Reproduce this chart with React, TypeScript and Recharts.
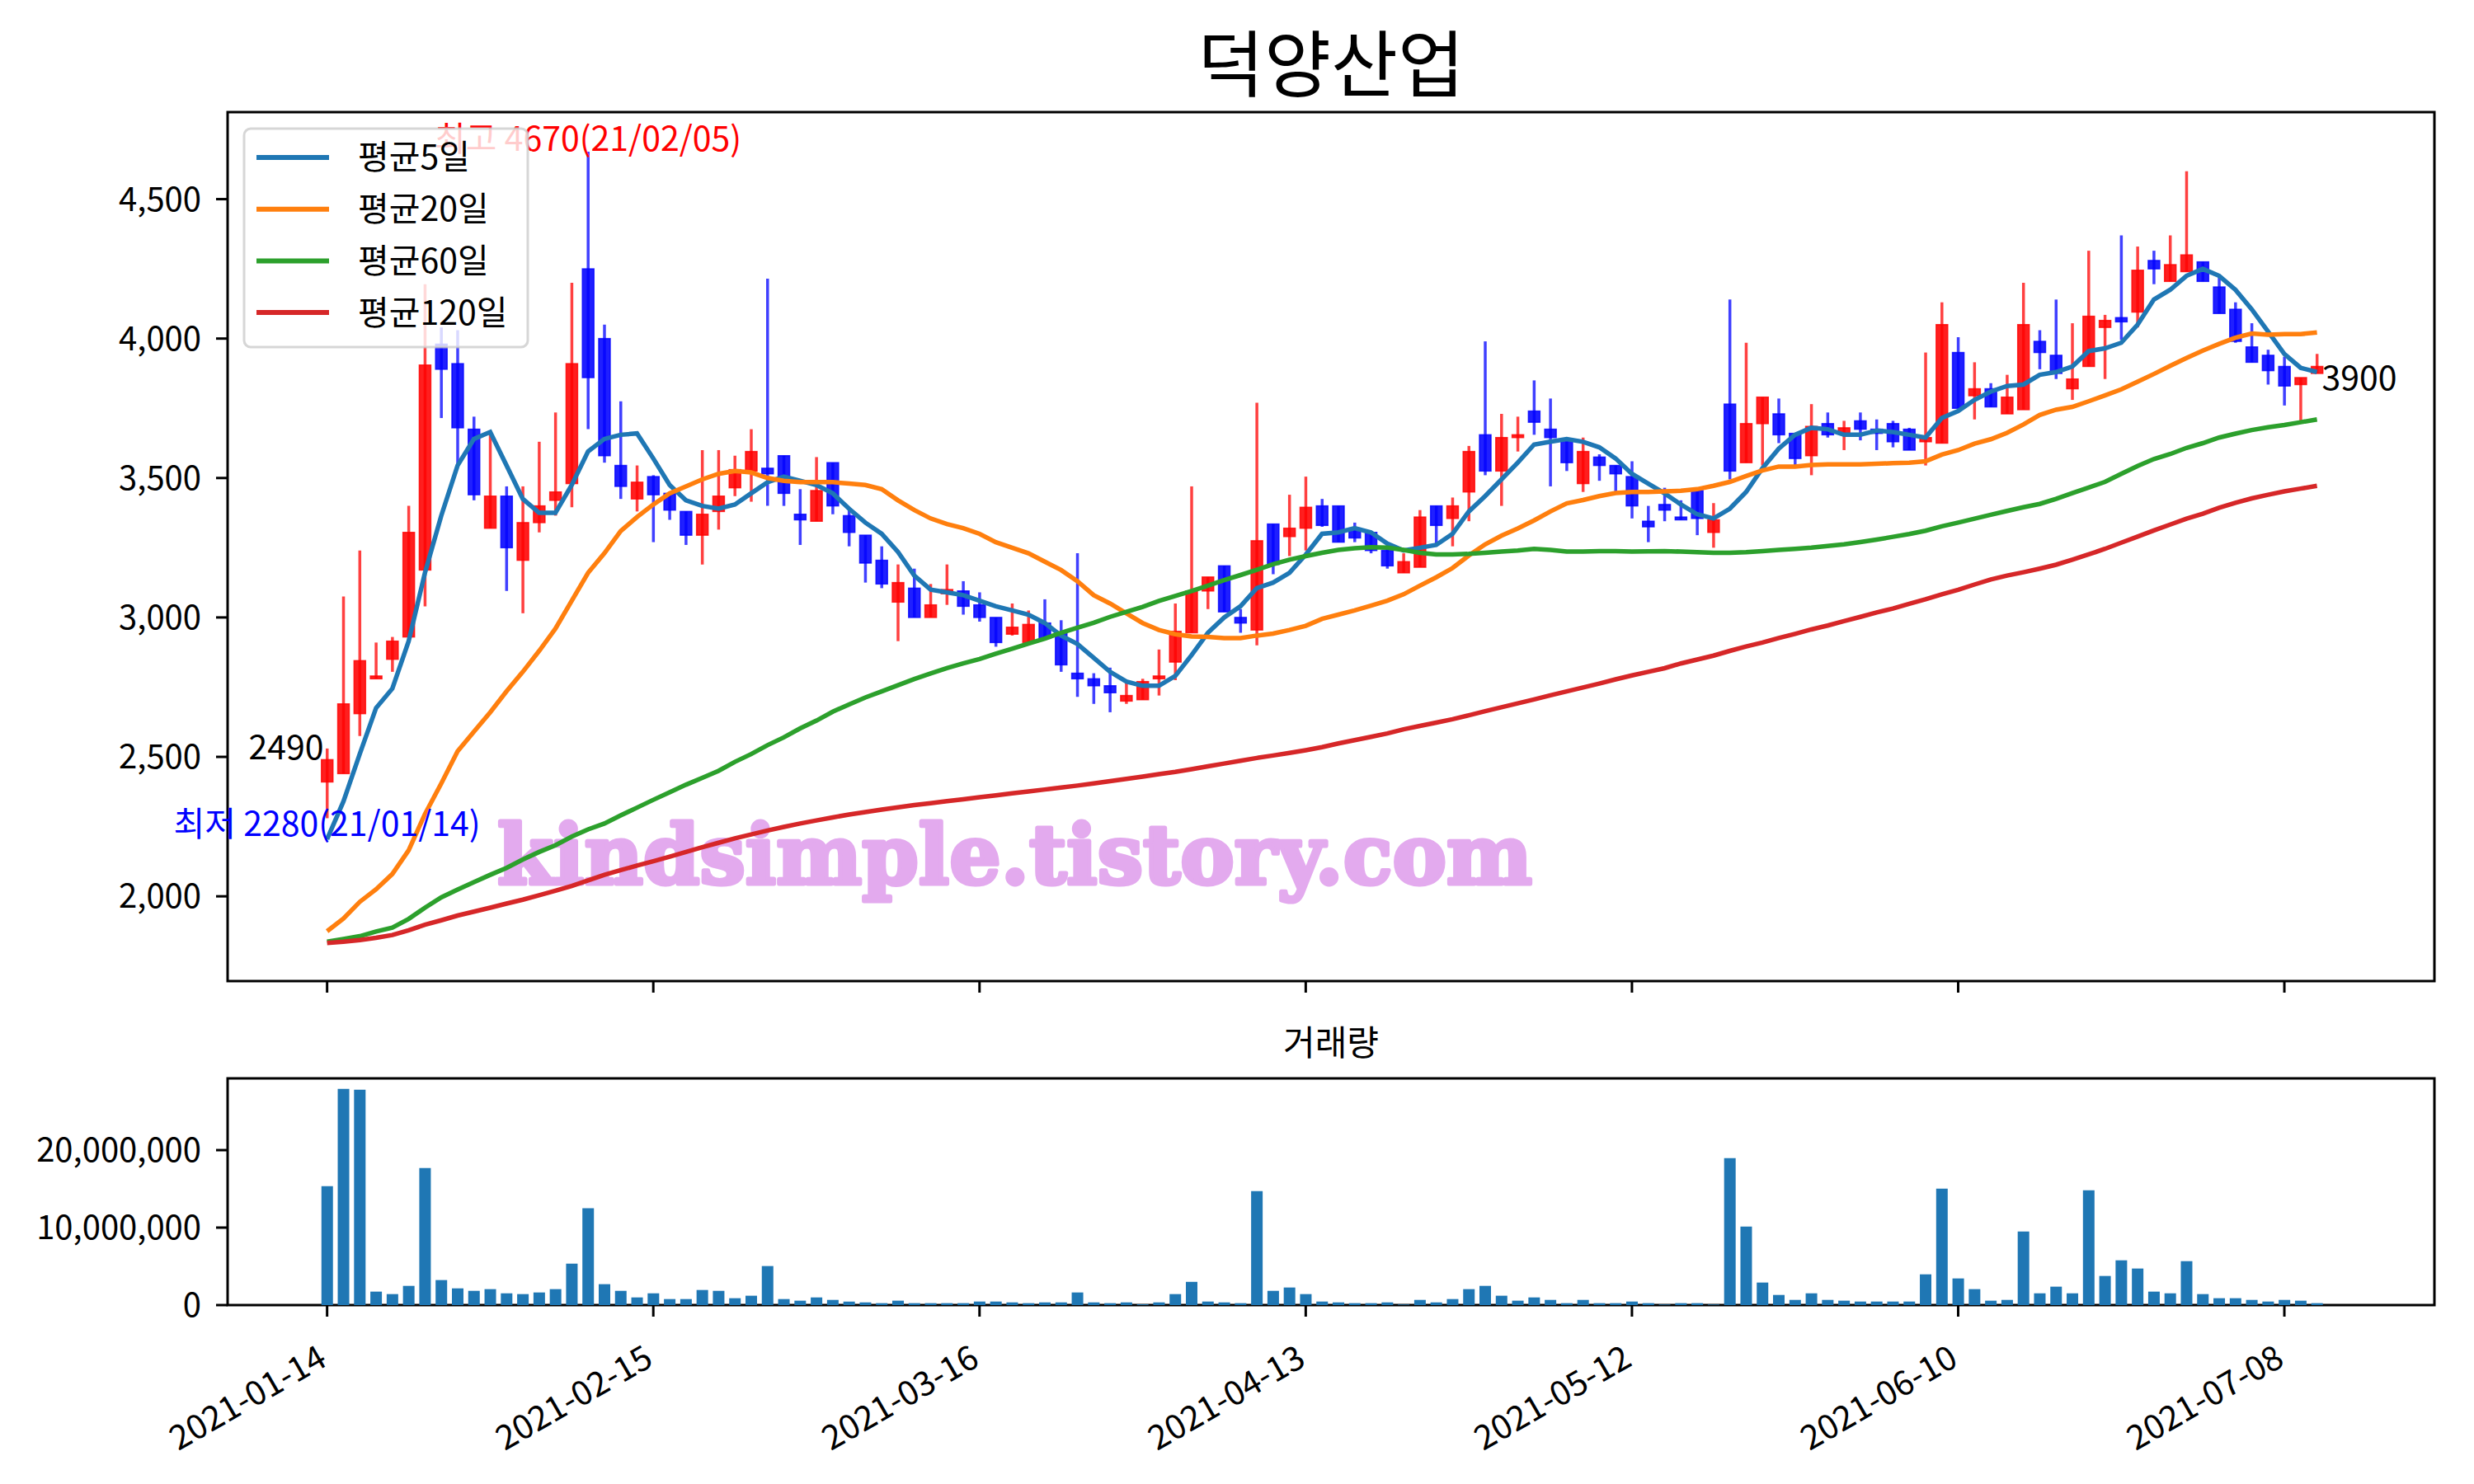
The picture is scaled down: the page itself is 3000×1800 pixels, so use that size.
import React from "react";
import { ComposedChart, Bar, Line, XAxis, YAxis, ReferenceArea, ReferenceDot } from "recharts";

const FONT = "'Noto Sans CJK KR', 'Noto Sans', sans-serif";

// x tick positions (trading-day index) and their labels
const tickIdx = [0, 20, 40, 60, 80, 100, 120];
const tickLabels = ["2021-01-14", "2021-02-15", "2021-03-16", "2021-04-13", "2021-05-12", "2021-06-10", "2021-07-08"];
const priceTicks = [2000, 2500, 3000, 3500, 4000, 4500];
const volumeTicks = [0, 10000000, 20000000];

const openPrices = [
  2410, 2440, 2655, 2780, 2850, 2930, 3170, 3980, 3910, 3675,
  3320, 3435, 3205, 3340, 3420, 3480, 4250, 4000, 3545, 3425,
  3505, 3445, 3380, 3295, 3380, 3465, 3525, 3535, 3580, 3370,
  3345, 3555, 3365, 3295, 3205, 3055, 3105, 3000, 3085, 3095,
  3045, 3000, 2940, 2910, 2980, 2945, 2800, 2780, 2755, 2700,
  2705, 2780, 2840, 2945, 3095, 3185, 3000, 2955, 3335, 3290,
  3320, 3400, 3400, 3320, 3305, 3240, 3160, 3180, 3400, 3355,
  3450, 3655, 3525, 3645, 3740, 3675, 3640, 3480, 3575, 3545,
  3505, 3345, 3405, 3360, 3455, 3305, 3765, 3555, 3695, 3730,
  3660, 3580, 3695, 3660, 3705, 3675, 3695, 3675, 3630, 3625,
  3950, 3795, 3820, 3730, 3745, 3990, 3940, 3820, 3900, 4040,
  4075, 4095, 4280, 4205, 4240, 4275, 4185, 4105, 3970, 3940,
  3900, 3835, 3875,
];
const highPrices = [
  2530, 3075, 3240, 2910, 2930, 3400, 4195, 4040, 4030, 3720,
  3670, 3470, 3470, 3630, 3735, 4200, 4670, 4050, 3775, 3545,
  3510, 3450, 3380, 3600, 3600, 3580, 3675, 4215, 3580, 3460,
  3575, 3555, 3395, 3295, 3255, 3190, 3175, 3120, 3190, 3130,
  3090, 3000, 3050, 3025, 3065, 2990, 3230, 2800, 2820, 2775,
  2780, 2885, 3050, 3470, 3145, 3185, 3030, 3770, 3335, 3440,
  3505, 3425, 3400, 3340, 3305, 3260, 3230, 3385, 3400, 3430,
  3615, 3990, 3730, 3720, 3850, 3785, 3640, 3645, 3585, 3545,
  3560, 3400, 3465, 3420, 3455, 3410, 4140, 3985, 3790, 3785,
  3660, 3765, 3735, 3705, 3735, 3710, 3705, 3680, 3950, 4130,
  4005, 3915, 3840, 3870, 4200, 4030, 4140, 4055, 4315, 4085,
  4370, 4330, 4315, 4370, 4600, 4275, 4220, 4130, 4055, 3960,
  3935, 3860, 3945,
];
const lowPrices = [
  2280, 2440, 2575, 2780, 2805, 2930, 3040, 3715, 3545, 3420,
  3320, 3095, 3015, 3305, 3365, 3395, 3675, 3555, 3425, 3380,
  3270, 3350, 3260, 3190, 3315, 3435, 3415, 3400, 3400, 3260,
  3345, 3370, 3255, 3125, 3105, 2915, 3000, 3000, 3045, 3010,
  2985, 2895, 2935, 2910, 2925, 2805, 2715, 2690, 2660, 2690,
  2705, 2720, 2775, 2945, 3030, 3020, 2945, 2900, 3155, 3220,
  3240, 3325, 3270, 3270, 3230, 3175, 3160, 3180, 3260, 3255,
  3345, 3510, 3400, 3595, 3655, 3470, 3525, 3450, 3490, 3450,
  3355, 3270, 3345, 3350, 3295, 3250, 3495, 3555, 3545, 3625,
  3545, 3510, 3645, 3600, 3635, 3600, 3610, 3600, 3545, 3625,
  3750, 3710, 3755, 3730, 3745, 3890, 3855, 3780, 3900, 3855,
  3995, 4040, 4195, 4205, 4240, 4205, 4090, 3985, 3915, 3835,
  3760, 3705, 3875,
];
const closePrices = [
  2490, 2690, 2845, 2790, 2915, 3305, 3905, 3890, 3680, 3440,
  3435, 3250, 3340, 3400, 3450, 3910, 3860, 3580, 3470, 3485,
  3440, 3385, 3295, 3370, 3435, 3530, 3595, 3515, 3445, 3350,
  3455, 3400, 3305, 3195, 3120, 3125, 3000, 3045, 3100, 3040,
  3000, 2910, 2965, 2975, 2925, 2830, 2780, 2755, 2730, 2720,
  2770, 2790, 2950, 3095, 3145, 3020, 2980, 3275, 3190, 3320,
  3395, 3330, 3270, 3285, 3240, 3185, 3200, 3360, 3330, 3400,
  3595, 3525, 3645, 3655, 3700, 3645, 3555, 3595, 3545, 3515,
  3400, 3325, 3385, 3350, 3355, 3350, 3525, 3695, 3790, 3655,
  3570, 3685, 3655, 3680, 3675, 3660, 3630, 3600, 3645, 4050,
  3750, 3820, 3755, 3790, 4050, 3950, 3875, 3855, 4080, 4065,
  4060, 4245, 4250, 4265, 4300, 4205, 4090, 3990, 3915, 3885,
  3830, 3860, 3900,
];
const volumes = [
  15350000, 27900000, 27800000, 1740000, 1420000, 2480000, 17700000, 3230000, 2160000, 1840000,
  2060000, 1520000, 1420000, 1630000, 2060000, 5350000, 12500000, 2700000, 1840000, 990000,
  1520000, 780000, 780000, 1950000, 1840000, 890000, 1210000, 5040000, 780000, 570000,
  990000, 670000, 460000, 350000, 250000, 570000, 250000, 250000, 250000, 250000,
  460000, 460000, 350000, 250000, 350000, 350000, 1630000, 350000, 250000, 350000,
  100000, 350000, 1420000, 3000000, 460000, 350000, 250000, 14700000, 1840000, 2270000,
  1420000, 460000, 350000, 250000, 250000, 350000, 70000, 670000, 350000, 780000,
  2060000, 2480000, 1210000, 570000, 990000, 670000, 250000, 670000, 250000, 250000,
  460000, 250000, 70000, 250000, 250000, 70000, 18970000, 10140000, 2910000, 1310000,
  670000, 1520000, 670000, 570000, 460000, 460000, 460000, 460000, 3970000, 15040000,
  3440000, 2060000, 570000, 670000, 9500000, 1520000, 2380000, 1520000, 14820000, 3760000,
  5780000, 4720000, 1740000, 1520000, 5670000, 1420000, 890000, 890000, 670000, 460000,
  670000, 570000, 250000,
];
const ma5 = [
  2205, 2340, 2510, 2675, 2745, 2915, 3160, 3365, 3545, 3640,
  3665, 3545, 3425, 3375, 3375, 3475, 3595, 3640, 3655, 3660,
  3570, 3475, 3420, 3400, 3390, 3405, 3445, 3485, 3505, 3490,
  3475, 3445, 3390, 3340, 3300, 3235, 3150, 3100, 3090, 3080,
  3060, 3040, 3025, 3010, 2980, 2935, 2905, 2855, 2805, 2770,
  2755, 2755, 2790, 2865, 2945, 3000, 3040, 3105, 3125, 3160,
  3225, 3300, 3305, 3320, 3305, 3265, 3240, 3250, 3260, 3300,
  3380, 3435, 3495, 3555, 3620, 3630, 3640, 3630, 3610, 3570,
  3515, 3480, 3445, 3405, 3370, 3355, 3390, 3450, 3535, 3605,
  3655, 3680, 3675, 3655, 3655, 3670, 3665, 3655, 3645, 3715,
  3740, 3780, 3810, 3830, 3835, 3870, 3880, 3900, 3955, 3965,
  3985, 4050, 4140, 4175, 4225, 4250, 4225, 4175, 4105, 4025,
  3945, 3895, 3880,
];
const ma20 = [
  1875, 1920, 1980, 2025, 2080, 2165, 2295, 2405, 2520, 2590,
  2660, 2735, 2805, 2880, 2960, 3060, 3160, 3230, 3310, 3360,
  3405, 3445, 3470, 3495, 3515, 3525, 3520, 3500, 3490, 3485,
  3485, 3485, 3480, 3475, 3460, 3420, 3385, 3355, 3335, 3320,
  3300, 3270, 3250, 3230, 3200, 3170, 3130, 3080, 3050, 3015,
  2980, 2955, 2940, 2932, 2930, 2926, 2926, 2935, 2942, 2955,
  2970, 2995, 3010, 3025, 3042, 3060, 3083, 3114, 3144, 3177,
  3222, 3262, 3293, 3319, 3348, 3380, 3409, 3421, 3435, 3446,
  3450, 3450, 3452, 3454, 3460, 3472, 3486, 3507, 3527, 3541,
  3541, 3547, 3549, 3549, 3549, 3551, 3553, 3555, 3560, 3584,
  3600, 3623, 3639, 3662, 3692, 3726, 3745, 3755, 3775, 3796,
  3818, 3845, 3873, 3902, 3930, 3957, 3981, 4003, 4018, 4014,
  4016, 4016, 4022,
];
const ma60 = [
  1837, 1847, 1857, 1874, 1888, 1919, 1959, 1996, 2024, 2051,
  2077, 2102, 2132, 2159, 2183, 2214, 2240, 2261, 2290, 2318,
  2346, 2373, 2400, 2425, 2450, 2482, 2510, 2542, 2570, 2602,
  2630, 2662, 2688, 2713, 2735, 2757, 2779, 2799, 2818, 2835,
  2851, 2870, 2888, 2906, 2924, 2945, 2963, 2981, 3002, 3020,
  3038, 3059, 3077, 3095, 3114, 3134, 3152, 3171, 3191, 3207,
  3220, 3232, 3242, 3248, 3252, 3250, 3242, 3232, 3226, 3226,
  3228, 3232, 3236, 3240, 3246, 3242, 3236, 3236, 3238, 3238,
  3236, 3237, 3238, 3236, 3234, 3232, 3232, 3234, 3238, 3242,
  3246, 3250, 3256, 3262, 3270, 3279, 3289, 3299, 3311, 3327,
  3340, 3354, 3368, 3382, 3395, 3407, 3425, 3446, 3466, 3486,
  3515, 3543, 3568, 3586, 3608, 3625, 3645, 3659, 3672, 3682,
  3690, 3700, 3710,
];
const ma120 = [
  1833, 1837, 1843, 1851, 1861, 1878, 1898, 1914, 1931, 1945,
  1959, 1974, 1988, 2004, 2020, 2037, 2057, 2077, 2094, 2110,
  2126, 2142, 2159, 2176, 2192, 2208, 2222, 2236, 2249, 2261,
  2272, 2283, 2293, 2302, 2311, 2319, 2327, 2334, 2341, 2348,
  2355, 2362, 2369, 2376, 2383, 2390, 2397, 2405, 2413, 2421,
  2429, 2438, 2446, 2456, 2466, 2476, 2486, 2496, 2505, 2514,
  2524, 2535, 2548, 2560, 2572, 2584, 2599, 2611, 2623, 2635,
  2649, 2664, 2678, 2692, 2706, 2721, 2735, 2749, 2763, 2778,
  2792, 2805, 2818, 2835, 2849, 2863, 2880, 2896, 2910, 2926,
  2941, 2957, 2971, 2987, 3002, 3018, 3032, 3049, 3065, 3083,
  3099, 3118, 3136, 3150, 3162, 3175, 3189, 3207, 3226, 3246,
  3268, 3290, 3312, 3333, 3354, 3372, 3393, 3411, 3427, 3440,
  3452, 3462, 3472,
];

const highDate = "21/02/05";
const lowDate = "21/01/14";

const rows = closePrices.map((c, i) => ({
  i,
  open: openPrices[i],
  high: highPrices[i],
  low: lowPrices[i],
  close: c,
  range: [lowPrices[i], highPrices[i]],
  volume: volumes[i],
  ma5: ma5[i],
  ma20: ma20[i],
  ma60: ma60[i],
  ma120: ma120[i],
}));

const maxHigh = Math.max(...highPrices);
const maxIdx = highPrices.indexOf(maxHigh);
const minLow = Math.min(...lowPrices);
const minIdx = lowPrices.indexOf(minLow);
const lastIdx = closePrices.length - 1;

const X_DOMAIN: [number, number] = [-6.1, 129.2];
const PRICE_DOMAIN: [number, number] = [1696, 4812];
const VOL_DOMAIN: [number, number] = [0, 29260000];

const fmt = (v: number) => v.toLocaleString("en-US");

function Candle(props: any) {
  const { x, y, width, height } = props;
  const d = props.payload ?? props;
  if (d == null || d.high == null) return null;
  const top = Math.min(y, y + height);
  const h = Math.abs(height);
  const span = d.high - d.low || 1;
  const py = (v: number) => top + ((d.high - v) / span) * h;
  const up = d.close >= d.open;
  const color = up ? "#ff0000" : "#0000ff";
  const cx = x + width / 2;
  const bTop = py(Math.max(d.open, d.close));
  const bBot = py(Math.min(d.open, d.close));
  const bh = Math.max(bBot - bTop, 2);
  return (
    <g>
      <line x1={cx} x2={cx} y1={top} y2={top + h} stroke={color} strokeOpacity={0.75} strokeWidth={3.5} />
      <rect x={x} y={bh === 2 ? bTop - 1 : bTop} width={width} height={bh} fill={color} fillOpacity={0.88} stroke={color} strokeOpacity={0.8} strokeWidth={1.5} />
    </g>
  );
}

function DateTick(props: any) {
  const { x, y, payload } = props;
  const k = tickIdx.indexOf(payload.value);
  return (
    <text transform={`translate(${x + 2},${y + 56}) rotate(-30)`} textAnchor="end" fontSize={41} fill="#000">
      {tickLabels[k]}
    </text>
  );
}

const legendItems = [
  { name: "평균5일", color: "#1f77b4" },
  { name: "평균20일", color: "#ff7f0e" },
  { name: "평균60일", color: "#2ca02c" },
  { name: "평균120일", color: "#d62728" },
];

export default function App() {
  return (
    <div style={{ position: "relative", width: 3000, height: 1800, background: "#fff", fontFamily: FONT, overflow: "hidden" }}>
      <style>{"body{margin:0}"}</style>

      {/* watermark sits under the chart marks */}
      <svg style={{ position: "absolute", left: 0, top: 0 }} width={3000} height={1800}>
        <text
          x={603}
          y={1072}
          fontFamily="'DejaVu Serif', serif"
          fontWeight="bold"
          fontSize={100}
          fill="#E3AAEE"
          stroke="#E3AAEE"
          strokeWidth={5}
          strokeLinejoin="round"
          textLength={1255}
          lengthAdjust="spacingAndGlyphs"
        >
          kindsimple.tistory.com
        </text>
      </svg>

      <div style={{ position: "absolute", left: 0, top: 0 }}>
        <ComposedChart width={3000} height={1230} data={rows} margin={{ top: 136, right: 48, bottom: 10, left: 76 }}>
          <XAxis
            type="number"
            dataKey="i"
            domain={X_DOMAIN}
            allowDataOverflow
            ticks={tickIdx}
            interval={0}
            tick={() => <g />}
            tickSize={14}
            tickLine={{ stroke: "#000", strokeWidth: 3 }}
            axisLine={false}
            height={30}
          />
          <YAxis
            type="number"
            domain={PRICE_DOMAIN}
            allowDataOverflow
            ticks={priceTicks}
            interval={0}
            tickFormatter={fmt}
            tick={{ fontSize: 40, fill: "#000" }}
            tickSize={14}
            tickMargin={18}
            tickLine={{ stroke: "#000", strokeWidth: 3 }}
            axisLine={false}
            width={200}
          />
          <Bar dataKey="range" barSize={14} shape={(p: any) => <Candle {...p} />} isAnimationActive={false} />
          <Line type="linear" dataKey="ma5" stroke="#1f77b4" strokeWidth={5.5} dot={false} activeDot={false} isAnimationActive={false} />
          <Line type="linear" dataKey="ma20" stroke="#ff7f0e" strokeWidth={5.5} dot={false} activeDot={false} isAnimationActive={false} />
          <Line type="linear" dataKey="ma60" stroke="#2ca02c" strokeWidth={5.5} dot={false} activeDot={false} isAnimationActive={false} />
          <Line type="linear" dataKey="ma120" stroke="#d62728" strokeWidth={5.5} dot={false} activeDot={false} isAnimationActive={false} />
          <ReferenceArea x1={X_DOMAIN[0]} x2={X_DOMAIN[1]} y1={PRICE_DOMAIN[0]} y2={PRICE_DOMAIN[1]} fill="#fff" fillOpacity={0} stroke="#000" strokeWidth={3} ifOverflow="visible" />
          <ReferenceDot
            x={maxIdx}
            y={maxHigh}
            r={0}
            ifOverflow="visible"
            shape={(p: any) => (
              <text x={p.cx} y={p.cy - 1} textAnchor="middle" fontSize={41} fill="#ff0000">{`최고 ${maxHigh}(${highDate})`}</text>
            )}
          />
          <ReferenceDot
            x={minIdx}
            y={minLow}
            r={0}
            ifOverflow="visible"
            shape={(p: any) => (
              <text x={p.cx} y={p.cy + 22} textAnchor="middle" fontSize={41} fill="#0000ff">{`최저 ${minLow}(${lowDate})`}</text>
            )}
          />
          <ReferenceDot
            x={0}
            y={closePrices[0]}
            r={0}
            ifOverflow="visible"
            shape={(p: any) => (
              <text x={p.cx - 4} y={p.cy} textAnchor="end" fontSize={41} fill="#000">{closePrices[0]}</text>
            )}
          />
          <ReferenceDot
            x={lastIdx}
            y={closePrices[lastIdx]}
            r={0}
            ifOverflow="visible"
            shape={(p: any) => (
              <text x={p.cx + 6} y={p.cy + 29} textAnchor="start" fontSize={41} fill="#000">{closePrices[lastIdx]}</text>
            )}
          />
        </ComposedChart>
      </div>

      <div style={{ position: "absolute", left: 0, top: 1240 }}>
        <ComposedChart width={3000} height={560} data={rows} margin={{ top: 68, right: 48, bottom: 17, left: 76 }}>
          <XAxis
            type="number"
            dataKey="i"
            domain={X_DOMAIN}
            allowDataOverflow
            ticks={tickIdx}
            interval={0}
            tick={(p: any) => <DateTick {...p} />}
            tickSize={14}
            tickLine={{ stroke: "#000", strokeWidth: 3 }}
            axisLine={false}
            height={200}
          />
          <YAxis
            type="number"
            domain={VOL_DOMAIN}
            allowDataOverflow
            ticks={volumeTicks}
            interval={0}
            tickFormatter={fmt}
            tick={{ fontSize: 40, fill: "#000" }}
            tickSize={14}
            tickMargin={18}
            tickLine={{ stroke: "#000", strokeWidth: 3 }}
            axisLine={false}
            width={200}
          />
          <Bar dataKey="volume" barSize={14} fill="#1f77b4" isAnimationActive={false} />
          <ReferenceArea x1={X_DOMAIN[0]} x2={X_DOMAIN[1]} y1={VOL_DOMAIN[0]} y2={VOL_DOMAIN[1]} fill="#fff" fillOpacity={0} stroke="#000" strokeWidth={3} ifOverflow="visible" />
        </ComposedChart>
      </div>

      {/* titles and legend drawn over the charts */}
      <svg style={{ position: "absolute", left: 0, top: 0, pointerEvents: "none" }} width={3000} height={1800}>
        <text x={1614} y={110} textAnchor="middle" fontSize={88} fill="#000">덕양산업</text>
        <text x={1614} y={1280} textAnchor="middle" fontSize={42} fill="#000">거래량</text>
        <rect x={296} y={156} width={344} height={265} rx={8} fill="#fff" fillOpacity={0.8} stroke="#cccccc" strokeOpacity={0.8} strokeWidth={3} />
        {legendItems.map((it, k) => (
          <g key={it.name}>
            <line x1={311} x2={399} y1={191 + k * 62.7} y2={191 + k * 62.7} stroke={it.color} strokeWidth={6} />
            <text x={434} y={205 + k * 63} fontSize={41} fill="#000">{it.name}</text>
          </g>
        ))}
      </svg>
    </div>
  );
}
